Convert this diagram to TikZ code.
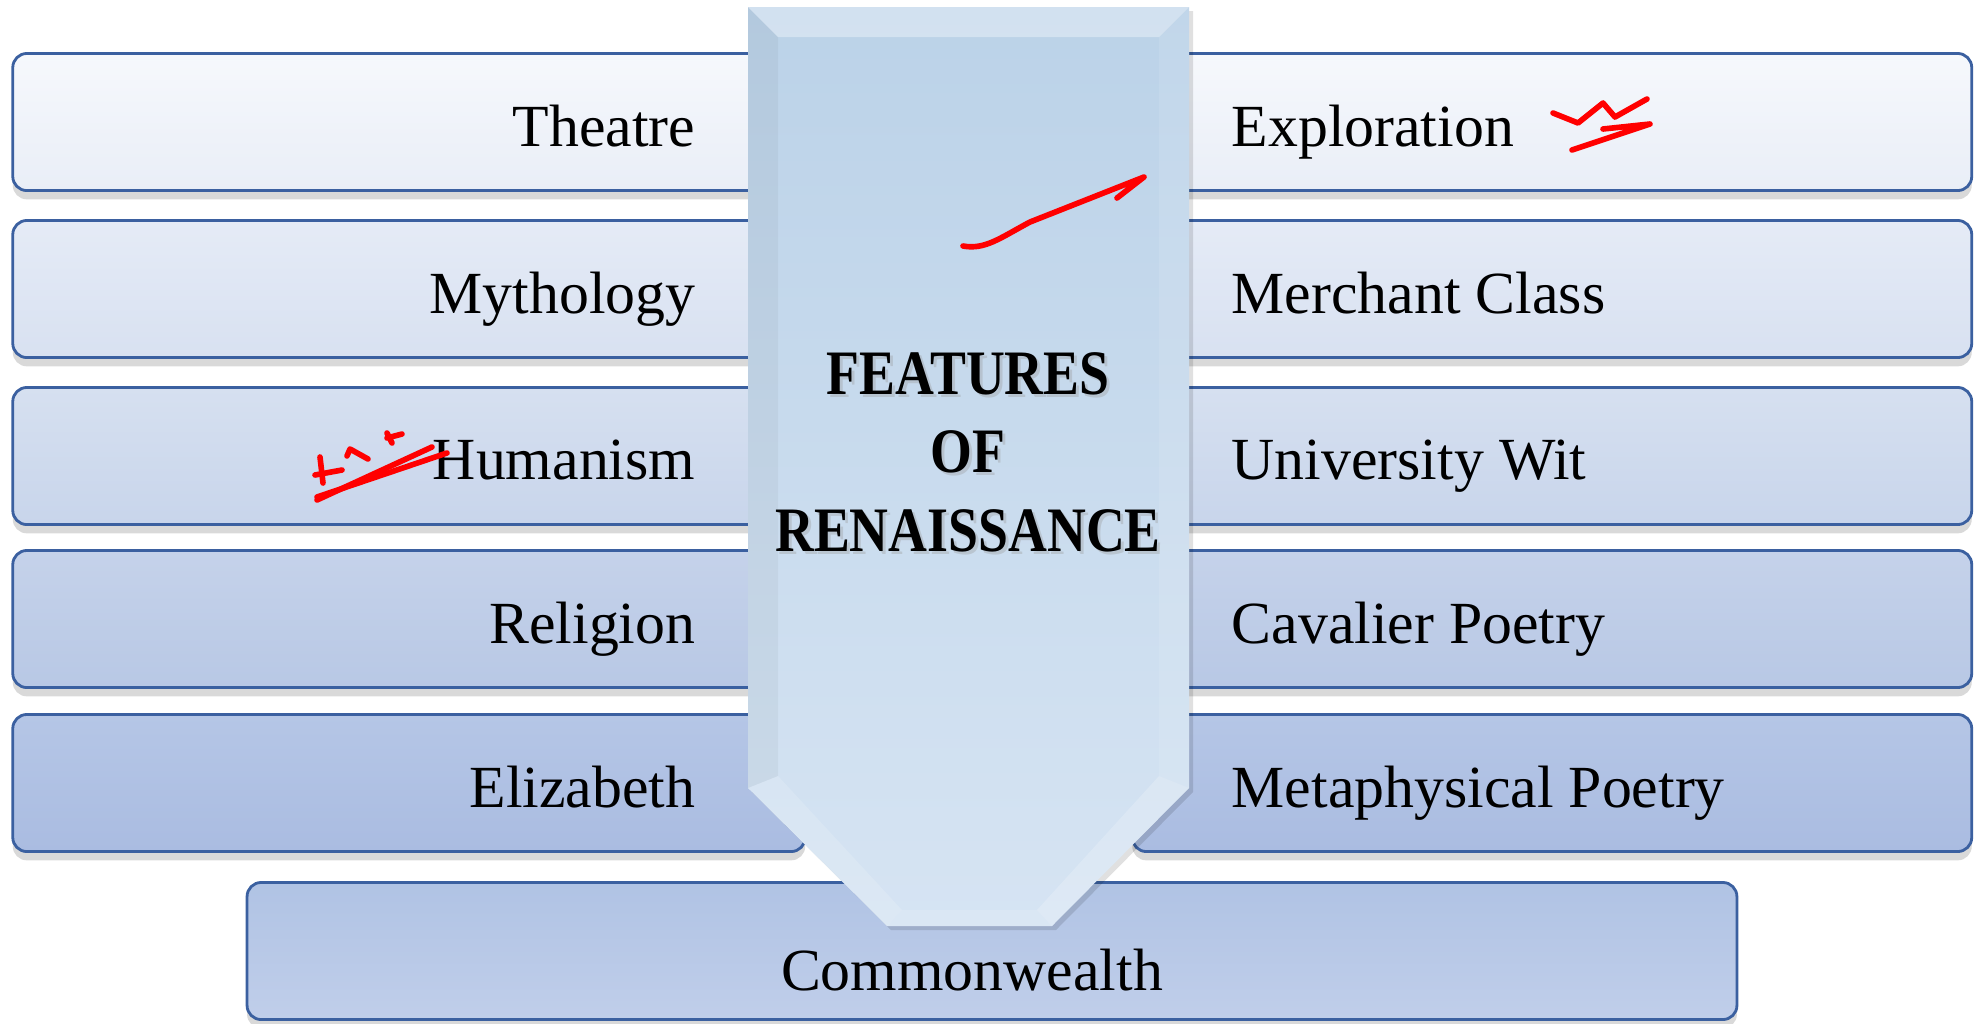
\documentclass[tikz,border=0pt]{standalone}
\usepackage{fontspec}
\setmainfont{Liberation Serif}
\newfontfamily\titlefont[FakeStretch=0.85]{Liberation Serif}
\usepackage{tikz}
\usetikzlibrary{shadows}
\usetikzlibrary{positioning}
\usepackage{xcolor}
\definecolor{myborder}{RGB}{59,96,160}
\definecolor{rowatop}{RGB}{246,248,252}
\definecolor{rowabot}{RGB}{233,238,247}
\definecolor{rowbtop}{RGB}{229,235,246}
\definecolor{rowbbot}{RGB}{216,225,241}
\definecolor{rowctop}{RGB}{214,224,240}
\definecolor{rowcbot}{RGB}{200,213,235}
\definecolor{rowdtop}{RGB}{197,210,234}
\definecolor{rowdbot}{RGB}{184,200,229}
\definecolor{rowetop}{RGB}{181,198,230}
\definecolor{rowebot}{RGB}{170,188,225}
\definecolor{commtop}{RGB}{176,195,228}
\definecolor{commbot}{RGB}{192,206,234}
\definecolor{arrowtop}{RGB}{187,210,232}
\definecolor{arrowbot}{RGB}{214,228,243}

\begin{document}
\begin{tikzpicture}[x=0.01cm, y=-0.01cm,
        rowbox/.style={draw=myborder, line width=0.8pt, rounded corners=4pt,
                minimum height=1.37cm, inner sep=0pt,
                drop shadow={shadow xshift=0pt, shadow yshift=-2.5pt, opacity=0.3}},
        lefttext/.style={font=\fontsize{17}{20}\selectfont, anchor=base east, inner sep=0pt},
        righttext/.style={font=\fontsize{17}{20}\selectfont, anchor=base west, inner sep=0pt},
        titletext/.style={font=\titlefont\bfseries\fontsize{18}{20}\selectfont, anchor=base, inner sep=0pt},
        titleshadow/.style={titletext, text=black!40, opacity=0.35},
        scribble/.style={red, line width=1.6pt, line cap=round, line join=round}]

    \useasboundingbox (0,0) rectangle (1974,1023);

    %L: left column
    \node[rowbox, minimum width=7.92cm, top color=rowatop, bottom color=rowabot] (lbox1) at (409,122) {};
    \node[rowbox, minimum width=7.92cm, top color=rowbtop, bottom color=rowbbot] (lbox2) at (409,289) {};
    \node[rowbox, minimum width=7.92cm, top color=rowctop, bottom color=rowcbot] (lbox3) at (409,456) {};
    \node[rowbox, minimum width=7.92cm, top color=rowdtop, bottom color=rowdbot] (lbox4) at (409,619) {};
    \node[rowbox, minimum width=7.92cm, top color=rowetop, bottom color=rowebot] (lbox5) at (409,783) {};

    % ------------------

    %R: right column
    \node[rowbox, minimum width=8.39cm, top color=rowatop, bottom color=rowabot] (rbox1) at (1552,122) {};
    \node[rowbox, minimum width=8.39cm, top color=rowbtop, bottom color=rowbbot] (rbox2) at (1552,289) {};
    \node[rowbox, minimum width=8.39cm, top color=rowctop, bottom color=rowcbot] (rbox3) at (1552,456) {};
    \node[rowbox, minimum width=8.39cm, top color=rowdtop, bottom color=rowdbot] (rbox4) at (1552,619) {};
    \node[rowbox, minimum width=8.39cm, top color=rowetop, bottom color=rowebot] (rbox5) at (1552,783) {};

    % ------------------

    %B: bottom row
    \node[rowbox, minimum width=14.89cm, top color=commtop, bottom color=commbot] (cbox) at (992,951) {};

    % ------------------

    %A: the arrow
    \fill[black, opacity=0.12]
    (752,11) -- (1193,11) -- (1193,792) -- (1056,930) -- (891,930) -- (752,792) -- cycle;
    \shade[top color=arrowtop, bottom color=arrowbot]
    (748,7) -- (1189,7) -- (1189,788) -- (1052,926) -- (887,926) -- (748,788) -- cycle;
    \fill[white, opacity=0.35] (748,7) -- (1189,7) -- (1159,37) -- (778,37) -- cycle;
    \fill[black, opacity=0.04] (748,7) -- (778,37) -- (778,776) -- (748,788) -- cycle;
    \fill[white, opacity=0.1] (1189,7) -- (1159,37) -- (1159,776) -- (1189,788) -- cycle;
    \fill[white, opacity=0.15] (748,788) -- (778,776) -- (902,910) -- (887,926) -- cycle;
    \fill[white, opacity=0.12] (887,926) -- (902,910) -- (1037,910) -- (1052,926) -- cycle;
    \fill[white, opacity=0.2] (1052,926) -- (1037,910) -- (1159,776) -- (1189,788) -- cycle;

    \node[titleshadow] (sfeat) at (971,397) {FEATURES};
    \node[titleshadow] (sof) at (971,475) {OF};
    \node[titleshadow] (sren) at (971,554) {RENAISSANCE};
    \node[titletext] (tfeat) at (968,394) {FEATURES};
    \node[titletext] (tof) at (968,472) {OF};
    \node[titletext] (tren) at (968,551) {RENAISSANCE};

    % ------------------

    %T: labels
    \node[lefttext] (ltheatre) at (696,146) {Theatre};
    \node[lefttext] (lmyth) at (696,313) {Mythology};
    \node[lefttext] (lhuman) at (696,479) {Humanism};
    \node[lefttext] (lrelig) at (696,643) {Religion};
    \node[lefttext] (leliz) at (696,807) {Elizabeth};

    \node[righttext] (rexplo) at (1231,146) {Exploration};
    \node[righttext] (rmerch) at (1231,313) {Merchant Class};
    \node[righttext] (runiv) at (1231,479) {University Wit};
    \node[righttext] (rcaval) at (1231,643) {Cavalier Poetry};
    \node[righttext] (rmeta) at (1231,807) {Metaphysical Poetry};

    \node[lefttext, anchor=base] (ccomm) at (972,990) {Commonwealth};

    % ------------------

    % pen marks
    \draw[scribble] (963,246) .. controls (985,250) and (1000,238) .. (1030,222) -- (1144,177) -- (1117,198);
    \draw[scribble] (1553,113) -- (1578,123) -- (1603,103) -- (1615,117) -- (1647,99);
    \draw[scribble] (1603,129) -- (1650,124) -- (1572,150);
    \draw[scribble] (317,500) -- (432,447);
    \draw[scribble] (317,497) -- (447,453);
    \draw[scribble] (320,457) -- (323,483);
    \draw[scribble] (315,475) -- (342,470);
    \draw[scribble] (347,456) -- (350,449) -- (368,459);
    \draw[scribble] (387,438) -- (402,434);
    \draw[scribble] (387,433) -- (392,443);
\end{tikzpicture}
\end{document}
